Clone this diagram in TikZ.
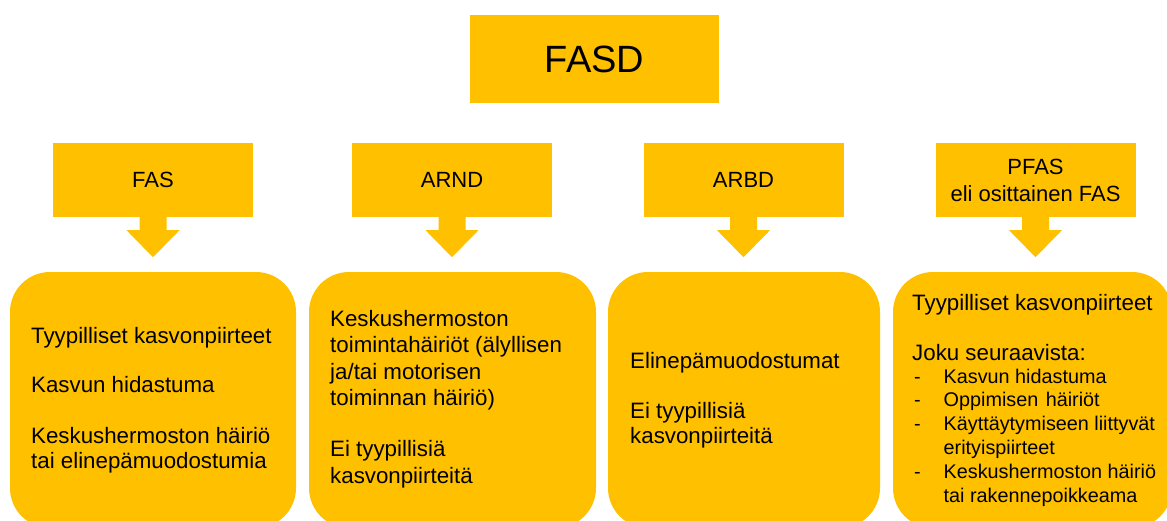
\documentclass[tikz,border=0pt]{standalone}
\usepackage{fontspec}
\setmainfont{Liberation Sans}
\usetikzlibrary{calc}
\definecolor{gold}{RGB}{255,192,0}
\tikzset{
  hdr/.style={fill=gold, inner sep=0pt, minimum width=200, minimum height=74, align=center, font=\fontsize{22}{27}\selectfont},
  topbox/.style={fill=gold, inner sep=0pt, minimum width=249, minimum height=88, font=\fontsize{38}{44}\selectfont},
  card/.style={fill=gold, rounded corners=40pt, inner sep=0pt, minimum height=256},
  body/.style={anchor=base west, inner sep=0pt, align=left, font=\fontsize{22.3}{25}\selectfont},
  listtext/.style={anchor=base west, inner sep=0pt, align=left, font=\fontsize{19.8}{23.8}\selectfont},
}
\newcommand{\dashitem}{\makebox[29.5pt][l]{-}}
\newcommand{\dashcont}{\hspace*{29.5pt}}
\begin{document}
\begin{tikzpicture}[x=1pt,y=-1pt]
\useasboundingbox (0,0) rectangle (1167,520);
\begin{scope}
\clip (0,0) rectangle (1167,520);
\node[topbox] (fasd) at (594.5,59) {FASD};

\node[hdr] (fas) at (153,180) {FAS};
\node[hdr] (arnd) at (452,180) {ARND};
\node[hdr] (arbd) at (743.5,180) {ARBD};
\node[hdr] (pfas) at (1035.5,180) {PFAS\\eli osittainen FAS};

\node[card, minimum width=286] (cfas) at (153,400) {};
\node[card, minimum width=287] (carnd) at (452.5,400) {};
\node[card, minimum width=272] (carbd) at (744,400) {};
\node[card, minimum width=279] (cpfas) at (1032.5,400) {};

\foreach \h in {fas,arnd,arbd,pfas}{
  \fill[gold] ($(\h.south)+(-13.5,0)$) -- ($(\h.south)+(-13.5,13)$) -- ($(\h.south)+(-26.5,13)$)
    -- ($(\h.south)+(0,40)$) -- ($(\h.south)+(26.5,13)$) -- ($(\h.south)+(13.5,13)$)
    -- ($(\h.south)+(13.5,0)$) -- cycle;
}

% base anchor = baseline of the last line
\node[body] (tfas) at (31,468) {Tyypilliset kasvonpiirteet\\[24pt]Kasvun hidastuma\\[26pt]Keskushermoston häiriö\\tai elinepämuodostumia};
\node[body, font=\fontsize{22.3}{26.5}\selectfont] (tarnd) at (330,483) {Keskushermoston\\toimintahäiriöt (älyllisen\\ja/tai motorisen\\toiminnan häiriö)\\[24.5pt]Ei tyypillisiä\\kasvonpiirteitä};
\node[body] (tarbd) at (630,443) {Elinepämuodostumat\\[25pt]Ei tyypillisiä\\kasvonpiirteitä};
\node[body] (tpfas) at (912,360) {Tyypilliset kasvonpiirteet\\[25pt]Joku seuraavista:};
\node[listtext] (lpfas) at (914,502) {\dashitem Kasvun hidastuma\\\dashitem Oppimisen\hspace{2pt} häiriöt\\\dashitem Käyttäytymiseen liittyvät\\\dashcont erityispiirteet\\\dashitem Keskushermoston häiriö\\\dashcont tai rakennepoikkeama};
\end{scope}
\end{tikzpicture}
\end{document}
